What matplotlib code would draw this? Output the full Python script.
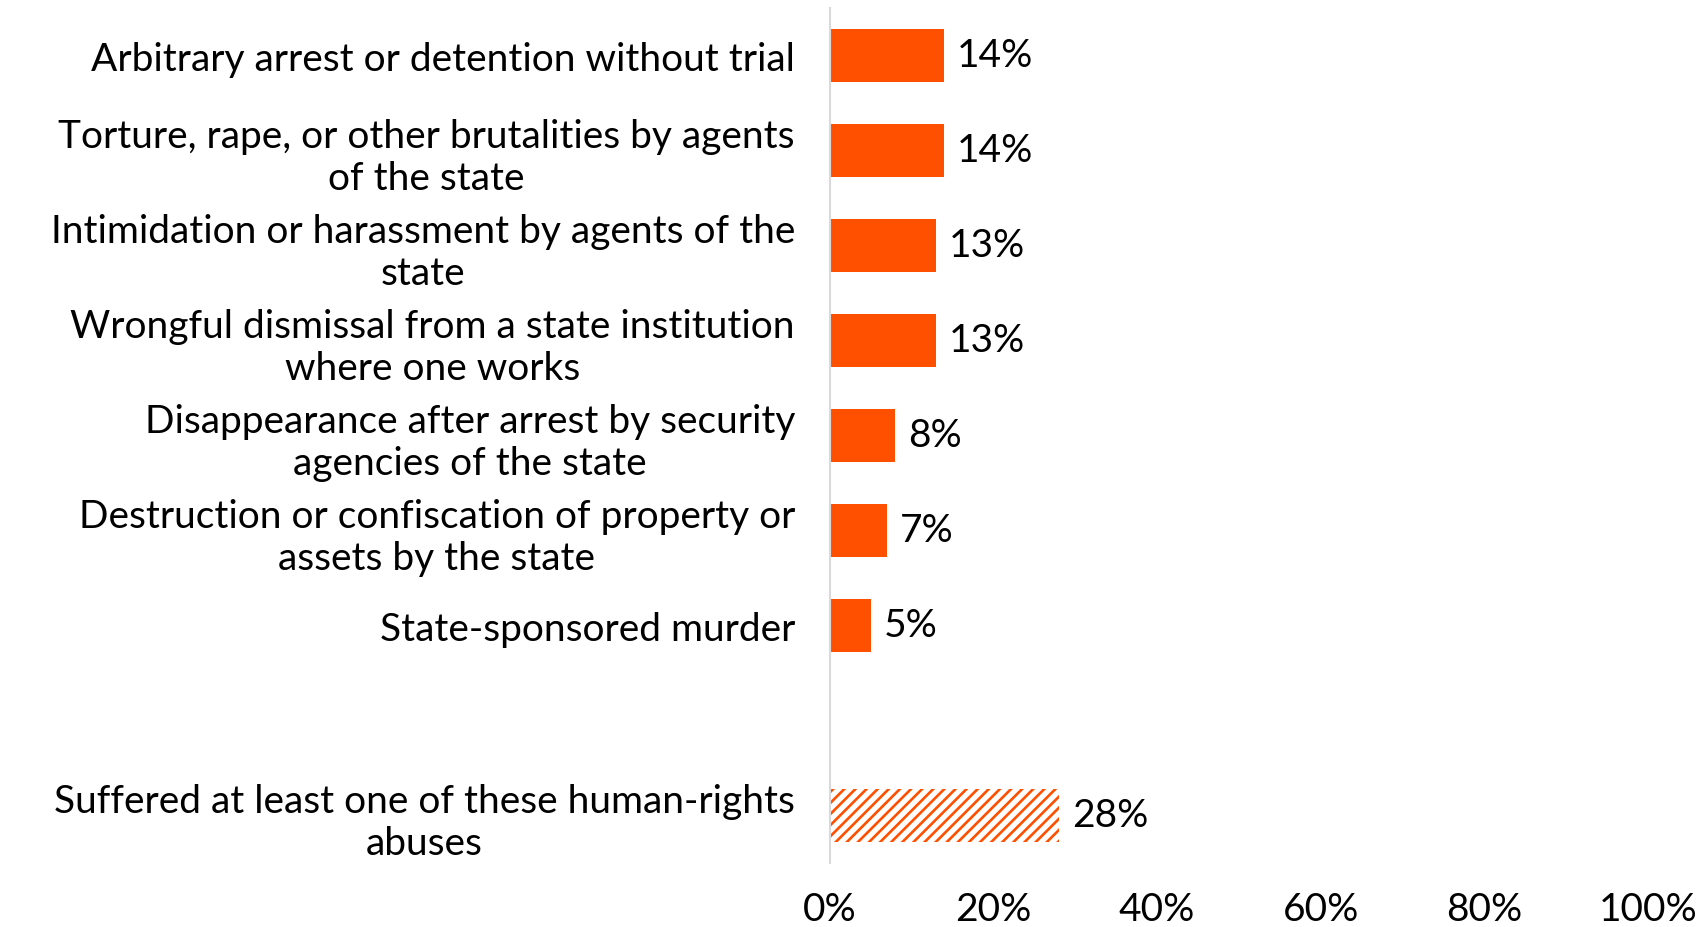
import matplotlib.pyplot as plt
import numpy as np

plt.rcParams['font.family'] = ['Lato', 'DejaVu Sans']
plt.rcParams['hatch.linewidth'] = 1.9

# categories (top to bottom), the summary row sits after an empty slot
categories = [
    "Arbitrary arrest or detention without trial",
    "Torture, rape, or other brutalities by agents\nof the state",
    "Intimidation or harassment by agents of the\nstate",
    "Wrongful dismissal from a state institution\nwhere one works",
    "Disappearance after arrest by security\nagencies of the state",
    "Destruction or confiscation of property or\nassets by the state",
    "State-sponsored murder",
]
values = [14, 14, 13, 13, 8, 7, 5]

summary_label = "Suffered at least one of these human-rights\nabuses"
summary_value = 28

xticks = [0, 20, 40, 60, 80, 100]

ORANGE = '#FF5000'
FS = 28

fig = plt.figure(figsize=(17.07, 9.28), dpi=100)
ax = fig.add_axes([0.486, 0.069, 0.4795, 0.9213])

pos = np.arange(len(categories))
ax.barh(pos, values, height=0.55, color=ORANGE)

summary_pos = len(categories) + 1
ax.barh([summary_pos], [summary_value], height=0.55, facecolor='white',
        edgecolor=ORANGE, linewidth=0, hatch='///')

for p, v in zip(list(pos) + [summary_pos], values + [summary_value]):
    ax.text(v + 1.6, p, f"{v}%", va='center', ha='left', fontsize=FS, color='black')

ax.set_yticks(list(pos) + [summary_pos])
ax.set_yticklabels(categories + [summary_label], fontsize=FS, ha='right',
                   multialignment='center')
ax.tick_params(axis='y', length=0, pad=25)

ax.set_xlim(0, 100)
ax.set_ylim(summary_pos + 0.5, -0.5)
ax.set_xticks(xticks)
ax.set_xticklabels([f"{t}%" for t in xticks], fontsize=FS)
ax.tick_params(axis='x', length=0, pad=20)

for s in ['top', 'right', 'bottom']:
    ax.spines[s].set_visible(False)
ax.spines['left'].set_color('#d9d9d9')
ax.spines['left'].set_linewidth(1.5)

fig.savefig('out.png', dpi=100)
